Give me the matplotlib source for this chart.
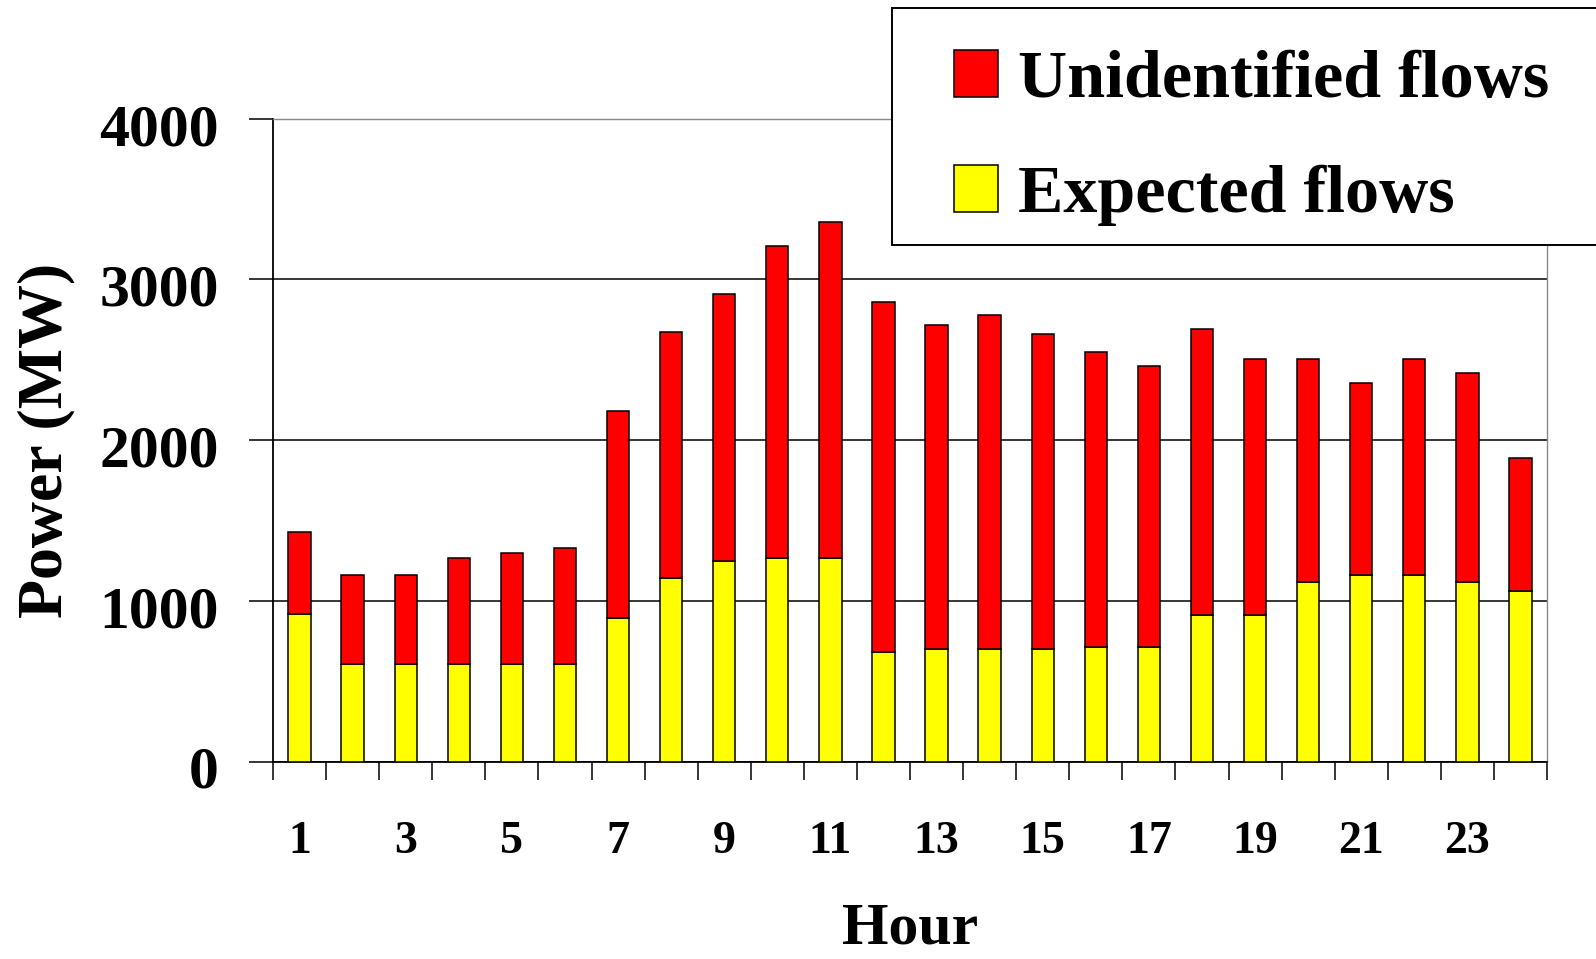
import matplotlib
matplotlib.use("Agg")
import matplotlib.pyplot as plt
from matplotlib.patches import Rectangle
from matplotlib.ticker import FixedLocator
from matplotlib.transforms import ScaledTranslation
import numpy as np

hours = list(range(1, 25))
expected = [918, 607, 607, 607, 607, 607, 891, 1144, 1250, 1266, 1266, 682,
            698, 698, 698, 713, 713, 910, 910, 1118, 1162, 1162, 1118, 1059]
total = [1430, 1161, 1161, 1269, 1296, 1328, 2178, 2669, 2910, 3206, 3358, 2858,
         2717, 2779, 2657, 2548, 2458, 2688, 2502, 2502, 2355, 2502, 2414, 1885]
unidentified = [t - e for t, e in zip(total, expected)]
tick_labels = [str(h) for h in hours if h % 2 == 1]
y_ticks = [0, 1000, 2000, 3000, 4000]

plt.rcParams['font.family'] = ['Liberation Serif', 'DejaVu Serif']
plt.rcParams['font.weight'] = 'bold'

W, H = 1596, 959
fig = plt.figure(figsize=(W / 100, H / 100), dpi=100)
ax = fig.add_axes([273 / W, 1 - 761.5 / H, 1274 / W, 643 / H])

x = np.arange(len(hours))
bw = 0.42
b1 = ax.bar(x, expected, bw, color='#FFFF00', edgecolor='black', linewidth=1.1,
            label='Expected flows', zorder=3)
b2 = ax.bar(x, unidentified, bw, bottom=expected, color='#FF0000', edgecolor='black',
            linewidth=1.1, label='Unidentified flows', zorder=3)

ax.set_xlim(-0.5, len(hours) - 0.5)
ax.set_ylim(0, 4000)

ax.set_yticks(y_ticks)
ax.set_yticklabels([str(v) for v in y_ticks], fontsize=43, fontweight='bold')
ax.tick_params(axis='y', which='major', length=17, width=1.1, pad=22, direction='out')
off = ScaledTranslation(0, -6 / 100, fig.dpi_scale_trans)
for lab in ax.get_yticklabels():
    lab.set_transform(lab.get_transform() + off)

ax.set_xticks([i for i in x if (i + 1) % 2 == 1])
ax.set_xticklabels(tick_labels, fontsize=33, fontweight='bold')
ax.tick_params(axis='x', which='major', length=0, pad=43)
ax.xaxis.set_minor_locator(FixedLocator(np.arange(-0.5, len(hours), 1.0)))
ax.tick_params(axis='x', which='minor', length=13, width=1.1, direction='out')

ax.grid(axis='y', color='black', linewidth=1.1, zorder=1)
ax.set_axisbelow(True)
for s in ['left', 'bottom']:
    ax.spines[s].set_color('black')
    ax.spines[s].set_linewidth(1.3)
for s in ['top', 'right']:
    ax.spines[s].set_color('#888888')
    ax.spines[s].set_linewidth(1.0)

ax.set_ylabel('Power (MW)', fontsize=46, fontweight='bold', va='center')
ax.yaxis.set_label_coords(-0.178, 0.5)
ax.set_xlabel('Hour', fontsize=43, fontweight='bold', va='center')
ax.xaxis.set_label_coords(0.5, -0.262)

# legend frame
frame = Rectangle((892 / W, 1 - 245 / H), 760 / W, 237 / H, transform=fig.transFigure,
                  facecolor='white', edgecolor='black', linewidth=1.4, zorder=4)
fig.add_artist(frame)

leg = fig.legend([b2, b1], ['Unidentified flows', 'Expected flows'],
                 loc='center left', bbox_to_anchor=(920 / W, 1 - 138 / H),
                 frameon=False, borderpad=0,
                 prop={'size': 49, 'weight': 'bold'},
                 handlelength=0.65, handleheight=0.69, handletextpad=0.29,
                 labelspacing=0.79)
leg.set_zorder(5)

fig.savefig('out.png', dpi=100)
